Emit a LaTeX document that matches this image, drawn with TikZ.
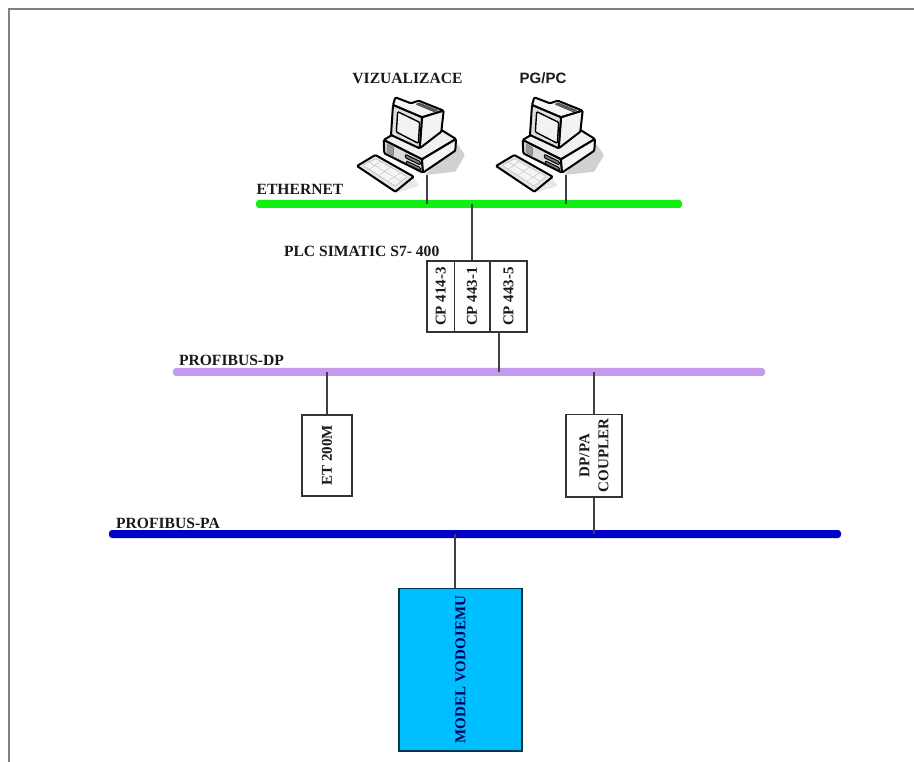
\documentclass[tikz,border=0pt]{standalone}
\usepackage{fontspec}
\setmainfont{Liberation Serif}
\newfontfamily\labelsans{Liberation Sans}
\usepackage{xcolor}
\definecolor{ethgreen}{HTML}{10F010}
\definecolor{dpviolet}{HTML}{C49AEE}
\definecolor{pablue}{HTML}{0000C8}
\definecolor{modelcyan}{HTML}{00BFFF}
\begin{document}
\begin{tikzpicture}[x=1pt,y=-1pt,
every node/.style={font=\fontsize{15}{19}\selectfont\bfseries,text=black!90,align=center,inner sep=0pt},
buslabel/.style={font=\fontsize{15.6}{19}\selectfont\bfseries},
bus/.style={rounded corners=3pt,minimum height=8pt},
unit/.style={draw=black!80,fill=white,line width=1.5pt,rotate=90},
wire/.style={draw=black!75,line width=1.6pt},
pc/.pic={
\begin{scope}[scale=1/3,shift={(-260,-345)},line join=round,rounded corners=1pt]
\fill[black!18] (340,235) -- (374,285) -- (345,335) -- (255,345) -- cycle;
\fill[black!9] (90,345) -- (165,400) -- (235,378) -- (215,345) -- cycle;
% keyboard
\draw[line width=2pt,fill=black!10] (50,318) -- (105,285) -- (220,350) -- (165,395) -- cycle;
\draw[black!30,fill=black!4] (68,316) -- (106,296) -- (201,350) -- (164,378) -- cycle;
\draw[black!25] (87,306) -- (182,364) (120,304) -- (88,327) (150,322) -- (118,345) (180,339) -- (145,362);
% base
\draw[line width=2pt,fill=black!6] (130,240) -- (160,222) -- (300,208) -- (347,237) -- (245,298) -- cycle;
\draw[line width=2pt,fill=black!14] (130,240) -- (245,298) -- (248,338) -- (132,280) -- cycle;
\draw[line width=2pt,fill=black!4] (245,298) -- (347,237) -- (345,272) -- (248,338) -- cycle;
\draw[black!60,fill=black!40] (140,252) -- (160,262) -- (160,288) -- (140,277) -- cycle;
\draw[line width=1pt,fill=black!50] (195,283) -- (240,305) -- (240,315) -- (195,293) -- cycle;
\draw[line width=1pt,fill=black!50] (198,303) -- (240,323) -- (240,332) -- (198,312) -- cycle;
% monitor
\draw[line width=2pt,fill=black!4] (158,135) -- (165,112) -- (212,130) -- (235,122) -- (310,152) -- (245,172) -- cycle;
\draw[line width=2pt,fill=black!5] (245,172) -- (310,152) -- (303,215) -- (238,265) -- cycle;
\draw[line width=2pt,fill=black!12] (158,135) -- (245,172) -- (238,265) -- (152,225) -- cycle;
\draw[line width=1.4pt,fill=black!5] (172,155) -- (238,187) -- (234,250) -- (168,216) -- cycle;
\fill[black!65] (235,127) -- (296,151) -- (282,157) -- (225,133) -- cycle;
\coordinate (-base) at (260,345);
\end{scope}
}]
\useasboundingbox (0,0) rectangle (914,762);
\draw[black!50,line width=2.4pt] (9,762) -- (9,9) -- (914,9);
\node[bus,fill=ethgreen,minimum width=426pt] (eth) at (469,204) {};
\node[bus,fill=dpviolet,minimum width=592pt] (dp) at (469,372) {};
\node[bus,fill=pablue,minimum width=732pt] (pa) at (475,534) {};
\node[buslabel] (ethlabel) at (300,189) {ETHERNET};
\node[buslabel] (dplabel) at (231.5,360) {PROFIBUS-DP};
\node[buslabel] (palabel) at (168,523) {PROFIBUS-PA};
\node[buslabel] (plclabel) at (361.7,251) {PLC SIMATIC S7- 400};
\node[buslabel] (vizlabel) at (407.5,78) {VIZUALIZACE};
\node (pglabel) at (543,78) {\labelsans PG/PC};
\pic (viz) at (427,175) {pc};
\pic (pg) at (566,175) {pc};
\draw[wire] (viz-base) -- (viz-base |- eth);
\draw[wire] (pg-base) -- (pg-base |- eth);
\node[unit,minimum width=71pt,minimum height=27.5pt] (cpa) at (440.75,296.5) {CP 414-3};
\node[unit,minimum width=71pt,minimum height=35.5pt] (cpb) at (472,296.5) {CP 443-1};
\node[unit,minimum width=71pt,minimum height=37pt] (cpc) at (508.5,296.5) {CP 443-5};
\coordinate (cptap) at (499,332);
\draw[wire] (cpb.east |- eth) -- (cpb.east);
\draw[wire] (cptap) -- (cptap |- dp);
\node[unit,minimum width=81pt,minimum height=50pt] (et) at (327,455.5) {ET 200M};
\draw[wire] (et.east |- dp) -- (et.east);
\node[unit,minimum width=82.5pt,minimum height=56pt] (coupler) at (594,455.5) {DP/PA\\COUPLER};
\draw[wire] (coupler.east |- dp) -- (coupler.east);
\draw[wire] (coupler.west) -- (coupler.west |- pa);
\node[unit,draw=black!70!modelcyan,fill=modelcyan,text=blue!35!black,minimum width=162.5pt,minimum height=123pt] (model) at (460.5,669.5) {MODEL VODOJEMU};
\coordinate (modeltap) at (455,588);
\draw[wire] (modeltap |- pa) -- (modeltap);
\end{tikzpicture}
\end{document}
